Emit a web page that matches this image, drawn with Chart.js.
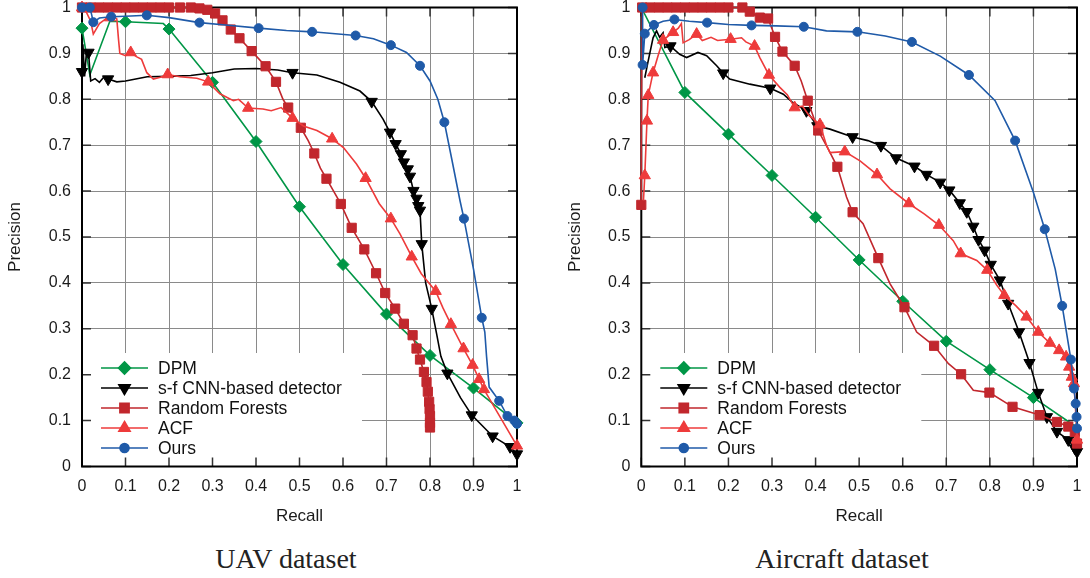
<!DOCTYPE html>
<html lang="en">
<head>
<meta charset="UTF-8">
<title>Precision-Recall - UAV / Aircraft</title>
<script src="https://cdn.jsdelivr.net/npm/chart.js@4.4.1/dist/chart.umd.min.js"></script>
<style>
  body { margin: 0; background: #fff; width: 1090px; height: 578px; position: relative; overflow: hidden; }
  canvas { position: absolute; top: 0; }
  .caption { position: absolute; top: 544px; width: 300px; line-height: 30px; text-align: center;
             font-family: "Liberation Serif", "Times New Roman", serif; font-size: 28px; color: #222; }
</style>
</head>
<body>
<canvas id="uav" width="545" height="530" style="left:0"></canvas>
<canvas id="aircraft" width="530" height="530" style="left:560px"></canvas>
<div class="caption" style="left:136px">UAV dataset</div>
<div class="caption" style="left:692px">Aircraft dataset</div>

<script>
// ---- dados: [recall, precision, 1 = tem marcador]
const seriesNames = ['DPM', 's-f CNN-based detector', 'Random Forests', 'ACF', 'Ours'];
const tickLabels = ['0', '0.1', '0.2', '0.3', '0.4', '0.5', '0.6', '0.7', '0.8', '0.9', '1'];

// UAV dataset
const uavDpm = [[0,0.955,1],[0.018,0.853],[0.064,0.97],[0.1,0.969,1],[0.187,0.965],[0.2,0.953,1],[0.3,0.837,1],[0.4,0.708,1],[0.5,0.566,1],[0.6,0.44,1],[0.7,0.332,1],[0.8,0.242,1],[0.9,0.171,1],[1.0,0.095,1]];
const uavCnn = [[0,0.86,1],[0.002,0.92],[0.006,0.85],[0.01,0.9],[0.015,0.902,1],[0.02,0.84],[0.03,0.845],[0.04,0.837],[0.05,0.848],[0.06,0.844,1],[0.08,0.838],[0.1,0.84],[0.15,0.849],[0.2,0.85],[0.25,0.852],[0.3,0.858],[0.35,0.866],[0.4,0.867],[0.45,0.864],[0.484,0.858,1],[0.54,0.853],[0.593,0.837],[0.639,0.818],[0.666,0.795,1],[0.692,0.757],[0.708,0.728,1],[0.721,0.703,1],[0.733,0.681,1],[0.74,0.663,1],[0.749,0.648,1],[0.754,0.632,1],[0.762,0.601,1],[0.769,0.584,1],[0.773,0.568,1],[0.777,0.558,1],[0.781,0.485,1],[0.79,0.4],[0.804,0.344,1],[0.815,0.29],[0.825,0.24],[0.84,0.203,1],[0.87,0.15],[0.896,0.112,1],[0.944,0.066,1],[0.984,0.043,1],[1.0,0.027,1]];
const uavRf = [[0,1,1],[0.02,1,1],[0.04,1,1],[0.06,1,1],[0.08,1,1],[0.1,1,1],[0.12,1,1],[0.14,1,1],[0.16,1,1],[0.18,1,1],[0.2,1,1],[0.225,1,1],[0.25,1,1],[0.27,0.998,1],[0.288,0.995,1],[0.306,0.987,1],[0.323,0.972,1],[0.342,0.952,1],[0.362,0.933,1],[0.39,0.905,1],[0.422,0.872,1],[0.446,0.838,1],[0.462,0.8],[0.474,0.782,1],[0.503,0.738,1],[0.52,0.71],[0.534,0.682,1],[0.548,0.65],[0.562,0.627,1],[0.595,0.572,1],[0.62,0.52,1],[0.649,0.473,1],[0.676,0.421,1],[0.697,0.378,1],[0.72,0.344,1],[0.74,0.311,1],[0.76,0.286,1],[0.769,0.257,1],[0.777,0.233,1],[0.786,0.206,1],[0.792,0.184,1],[0.795,0.163,1],[0.798,0.141,1],[0.799,0.125,1],[0.8,0.11,1],[0.8,0.095,1],[0.8,0.085,1]];
const uavAcf = [[0,1.0,1],[0.01,0.99],[0.02,0.97],[0.026,0.942],[0.04,0.965],[0.053,0.974],[0.064,0.978,1],[0.072,0.981],[0.08,0.975],[0.084,0.93],[0.087,0.9],[0.1,0.895],[0.112,0.902,1],[0.125,0.893],[0.137,0.887],[0.149,0.858],[0.164,0.844],[0.18,0.848],[0.197,0.854,1],[0.225,0.849],[0.264,0.846],[0.29,0.838,1],[0.317,0.812],[0.348,0.797],[0.36,0.8],[0.382,0.781,1],[0.416,0.779],[0.435,0.775],[0.458,0.782],[0.484,0.759,1],[0.509,0.742],[0.54,0.732],[0.575,0.714,1],[0.601,0.695],[0.631,0.659],[0.652,0.628,1],[0.683,0.573],[0.71,0.54,1],[0.731,0.507],[0.758,0.457,1],[0.78,0.42],[0.813,0.382,1],[0.83,0.345],[0.848,0.31,1],[0.877,0.257,1],[0.898,0.221,1],[0.913,0.19,1],[0.924,0.168,1],[1.0,0.045,1]];
const uavOurs = [[0,1.0,1],[0.018,1.0,1],[0.022,0.985],[0.026,0.968,1],[0.04,0.977],[0.067,0.98,1],[0.1,0.981],[0.149,0.983,1],[0.2,0.978],[0.27,0.967,1],[0.33,0.962],[0.406,0.955,1],[0.47,0.95],[0.529,0.947,1],[0.629,0.939,1],[0.67,0.932],[0.71,0.918,1],[0.746,0.902],[0.777,0.873,1],[0.8,0.84],[0.818,0.8],[0.833,0.75,1],[0.85,0.67],[0.869,0.579],[0.878,0.54,1],[0.9,0.43],[0.919,0.324,1],[0.926,0.293],[0.93,0.24],[0.936,0.173],[0.959,0.143,1],[0.978,0.11,1],[0.994,0.1,1],[1.0,0.093,1]];

// Aircraft dataset
const airDpm = [[0,1.0],[0.1,0.815,1],[0.2,0.724,1],[0.3,0.634,1],[0.4,0.543,1],[0.5,0.45,1],[0.6,0.36,1],[0.7,0.273,1],[0.8,0.211,1],[0.9,0.15,1],[1.0,0.085]];
const airCnn = [[0.008,0.847],[0.015,0.88],[0.027,0.934],[0.035,0.949],[0.042,0.935],[0.05,0.945],[0.054,0.913],[0.067,0.916,1],[0.088,0.898],[0.104,0.891],[0.13,0.902],[0.15,0.895],[0.173,0.873],[0.188,0.857,1],[0.203,0.844],[0.249,0.833],[0.296,0.824,1],[0.326,0.811],[0.345,0.795],[0.379,0.775,1],[0.404,0.742,1],[0.433,0.735],[0.485,0.718,1],[0.52,0.71],[0.55,0.699,1],[0.585,0.672,1],[0.627,0.654,1],[0.655,0.636,1],[0.686,0.619,1],[0.707,0.602,1],[0.731,0.574,1],[0.747,0.555,1],[0.762,0.523,1],[0.774,0.494,1],[0.788,0.471,1],[0.802,0.44,1],[0.823,0.406,1],[0.842,0.355,1],[0.867,0.293,1],[0.891,0.226,1],[0.911,0.161,1],[0.931,0.108,1],[0.954,0.076,1],[0.98,0.058,1],[0.995,0.04,1],[1.0,0.032,1]];
const airRf = [[0,0.57,1],[0,0.75],[0.002,1.0,1],[0.02,1.0,1],[0.04,1.0,1],[0.06,1.0,1],[0.08,1.0,1],[0.1,1.0,1],[0.12,1.0,1],[0.14,1.0,1],[0.16,1.0,1],[0.18,1.0,1],[0.2,1.0,1],[0.232,1.0,1],[0.249,0.991,1],[0.272,0.978,1],[0.291,0.976,1],[0.307,0.936,1],[0.324,0.904,1],[0.352,0.873,1],[0.367,0.84],[0.382,0.797,1],[0.406,0.732,1],[0.43,0.69],[0.45,0.653,1],[0.471,0.587],[0.485,0.554,1],[0.509,0.529],[0.544,0.454,1],[0.571,0.398],[0.604,0.347,1],[0.632,0.293],[0.672,0.263,1],[0.705,0.224],[0.734,0.201,1],[0.762,0.166],[0.799,0.161,1],[0.852,0.13,1],[0.914,0.112,1],[0.954,0.097,1],[0.98,0.087,1],[0.995,0.075,1],[1.0,0.05,1]];
const airAcf = [[0.005,0.58],[0.008,0.634,1],[0.013,0.753,1],[0.016,0.809,1],[0.027,0.858,1],[0.04,0.9],[0.05,0.929,1],[0.073,0.946,1],[0.085,0.955],[0.092,0.965],[0.096,0.923],[0.11,0.93],[0.127,0.942,1],[0.14,0.928],[0.16,0.935],[0.175,0.928],[0.205,0.931,1],[0.23,0.934],[0.24,0.925],[0.26,0.916,1],[0.272,0.891],[0.293,0.853,1],[0.318,0.826],[0.335,0.81],[0.352,0.782,1],[0.37,0.785],[0.385,0.765],[0.41,0.745,1],[0.425,0.7],[0.433,0.684],[0.467,0.686,1],[0.502,0.666],[0.541,0.636,1],[0.571,0.605],[0.614,0.573,1],[0.65,0.55],[0.683,0.526,1],[0.716,0.492],[0.733,0.464,1],[0.77,0.449],[0.794,0.428,1],[0.816,0.395],[0.833,0.373,1],[0.86,0.35],[0.884,0.326,1],[0.911,0.293,1],[0.938,0.269,1],[0.959,0.253,1],[0.975,0.239,1],[0.982,0.217,1],[0.988,0.195,1],[0.993,0.181,1],[0.997,0.12],[1.0,0.058,1]];
const airOurs = [[0.003,1.0,1],[0.003,0.875,1],[0.008,0.943,1],[0.029,0.962,1],[0.05,0.97],[0.076,0.974,1],[0.11,0.97],[0.151,0.967,1],[0.2,0.963],[0.253,0.961,1],[0.31,0.96],[0.373,0.958,1],[0.425,0.949],[0.496,0.947,1],[0.56,0.938],[0.621,0.925,1],[0.686,0.894],[0.752,0.853,1],[0.812,0.797],[0.858,0.71,1],[0.9,0.597],[0.926,0.517,1],[0.95,0.43],[0.966,0.35,1],[0.986,0.233,1],[0.993,0.17,1],[0.997,0.137,1],[0.999,0.108,1],[1.0,0.083,1]];

// ---- estilo de cada curva (mesma ordem de seriesNames)
const estilos = [
  { cor: '#009646', ponto: 'rectRot', raio: 6, rot: 0 },
  { cor: '#000000', ponto: 'triangle', raio: 6.5, rot: 180 },
  { cor: '#c1272d', ponto: 'rect', raio: 6.5, rot: 0 },
  { cor: '#ee3b3b', ponto: 'triangle', raio: 6.5, rot: 0 },
  { cor: '#1f5aa8', ponto: 'circle', raio: 4.5, rot: 0 }
];

const fonte = '"Liberation Sans", Arial, Helvetica, sans-serif';

// moldura, ticks internos e legenda dentro da area do grafico
const moldura = {
  id: 'moldura',
  beforeDatasetsDraw(chart) {
    const { ctx, chartArea: a, scales } = chart;
    ctx.save();
    ctx.fillStyle = '#fff';
    ctx.fillRect(a.left, a.bottom - 113.5, 280, 113.5);

    ctx.strokeStyle = '#333';
    ctx.lineWidth = 1.5;
    ctx.beginPath();
    scales.x.ticks.forEach(t => {
      const x = scales.x.getPixelForValue(t.value);
      ctx.moveTo(x, a.bottom); ctx.lineTo(x, a.bottom - 9);
      ctx.moveTo(x, a.top); ctx.lineTo(x, a.top + 9);
    });
    scales.y.ticks.forEach(t => {
      const y = scales.y.getPixelForValue(t.value);
      ctx.moveTo(a.left, y); ctx.lineTo(a.left + 9, y);
      ctx.moveTo(a.right, y); ctx.lineTo(a.right - 9, y);
    });
    ctx.stroke();

    ctx.strokeStyle = '#000';
    ctx.lineWidth = 2;
    ctx.strokeRect(a.left, a.top, a.right - a.left, a.bottom - a.top);
    ctx.restore();
  },
  afterDatasetsDraw(chart) {
    const { ctx, chartArea: a } = chart;
    ctx.save();
    ctx.font = '17.5px ' + fonte;
    ctx.textBaseline = 'middle';
    ctx.textAlign = 'left';
    seriesNames.forEach((nome, i) => {
      const e = estilos[i];
      const y = a.bottom - 98.5 + i * 20;
      ctx.strokeStyle = e.cor;
      ctx.lineWidth = 1.6;
      ctx.beginPath();
      ctx.moveTo(a.left + 19, y); ctx.lineTo(a.left + 66, y);
      ctx.stroke();
      ctx.fillStyle = e.cor;
      Chart.helpers.drawPoint(ctx, { pointStyle: e.ponto, rotation: e.rot, radius: e.raio, borderWidth: 1 }, a.left + 42.5, y);
      ctx.fillStyle = '#111';
      ctx.fillText(nome, a.left + 76, y + 1);
    });
    ctx.restore();
  }
};

function montarGrafico(idCanvas, curvas, yLargura, padDireita) {
  const datasets = curvas.map((pontos, i) => {
    const e = estilos[i];
    return {
      label: seriesNames[i],
      data: pontos.map(p => ({ x: p[0], y: p[1], m: p[2] || 0 })),
      borderColor: e.cor,
      backgroundColor: e.cor,
      borderWidth: 1.6,
      tension: 0,
      pointStyle: e.ponto,
      pointRotation: e.rot,
      pointRadius: c => (c.raw && c.raw.m ? e.raio : 0),
      pointBorderWidth: 1,
      clip: false,
      order: curvas.length - i
    };
  });

  return new Chart(document.getElementById(idCanvas), {
    type: 'line',
    data: { datasets },
    options: {
      responsive: false,
      animation: false,
      events: [],
      layout: { padding: { top: 6.5, right: padDireita, left: 0, bottom: 0 } },
      plugins: { legend: { display: false }, tooltip: { enabled: false } },
      scales: {
        x: {
          type: 'linear', min: 0, max: 1,
          afterFit: s => { s.height = 63.5; s.paddingLeft = 0; s.paddingRight = 0; },
          ticks: { stepSize: 0.1, padding: 10.5, color: '#1a1a1a', font: { family: fonte, size: 16 },
                   callback: (v, idx) => tickLabels[idx] },
          grid: { color: '#8a8a8a', lineWidth: 1, drawTicks: false },
          border: { display: false },
          title: { display: true, text: 'Recall', color: '#1a1a1a', font: { family: fonte, size: 17 },
                   padding: { top: 0, bottom: 3 } }
        },
        y: {
          type: 'linear', min: 0, max: 1,
          afterFit: s => { s.width = yLargura; s.paddingTop = 0; s.paddingBottom = 0; },
          ticks: { stepSize: 0.1, padding: 11, color: '#1a1a1a', font: { family: fonte, size: 16 },
                   callback: (v, idx) => tickLabels[idx] },
          grid: { color: '#8a8a8a', lineWidth: 1, drawTicks: false },
          border: { display: false },
          title: { display: true, text: 'Precision', color: '#1a1a1a', font: { family: fonte, size: 17 },
                   padding: { top: 5, bottom: 0 } }
        }
      }
    },
    plugins: [moldura]
  });
}

montarGrafico('uav', [uavDpm, uavCnn, uavRf, uavAcf, uavOurs], 82, 28);
montarGrafico('aircraft', [airDpm, airCnn, airRf, airAcf, airOurs], 81.3, 13);
</script>
</body>
</html>
